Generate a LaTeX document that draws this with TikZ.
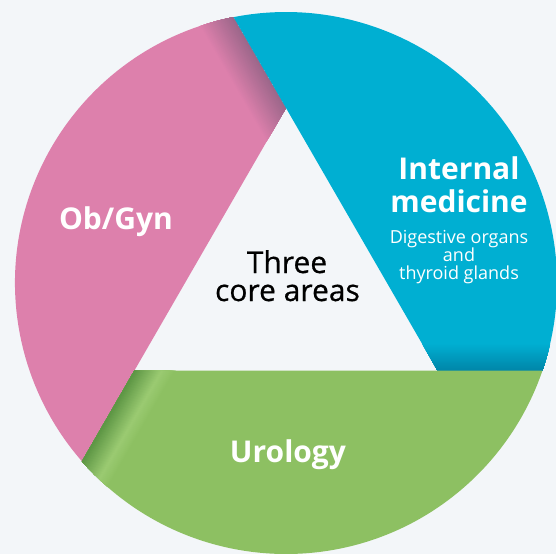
\documentclass[tikz,border=0pt]{standalone}
\usepackage{fontspec}
\setmainfont{Open Sans}
\newfontfamily\corefont[FakeBold=0.6]{Open Sans}
\definecolor{bgc}{HTML}{F3F6F9}
\definecolor{pinkc}{HTML}{DD80AC}
\definecolor{pinkd}{HTML}{9A6689}
\definecolor{bluec}{HTML}{00AFD2}
\definecolor{blued}{HTML}{0085A8}
\definecolor{greenc}{HTML}{8DC062}
\definecolor{greenl}{HTML}{9BCB72}
\definecolor{greend}{HTML}{5B9443}
\begin{document}
\begin{tikzpicture}[x=1pt,y=1pt,
  title/.style={text=white,font=\bfseries\fontsize{30}{32}\selectfont,anchor=base,inner sep=0},
  sub/.style={text=white,font=\fontsize{18}{20}\selectfont,anchor=base,inner sep=0},
  core/.style={text=black,font=\corefont\fontsize{30}{32}\selectfont,anchor=base,inner sep=0}]
\fill[bgc] (-286,-271) rectangle (270,283);
\useasboundingbox (-286,-271) rectangle (270,283);
\def\R{271}
\coordinate (A) at (90:175);
\coordinate (B) at (210:175);
\coordinate (BR) at (330:175);
\coordinate (P1) at (101.16:\R);
\coordinate (P2) at (-18.84:\R);
\coordinate (P3) at (221.16:\R);
% pink
\begin{scope}
\clip (P1) arc[start angle=101.16,end angle=221.16,radius=\R] -- (B) -- (A) -- cycle;
\fill[pinkc] (-300,-300) rectangle (300,300);
\begin{scope}[shift={(A)},rotate=120]
\foreach \i in {30,29,...,1}{
  \pgfmathsetmacro\p{100*(1-\i/30)}
  \fill[pinkd!\p!pinkc] (-50,0) rectangle (400,{34*\i/30});
}
\end{scope}
\end{scope}
% blue
\begin{scope}
\clip (P2) arc[start angle=-18.84,end angle=101.16,radius=\R] -- (A) -- (BR) -- cycle;
\fill[bluec] (-300,-300) rectangle (300,300);
\begin{scope}[shift={(BR)},rotate=0]
\foreach \i in {30,29,...,1}{
  \pgfmathsetmacro\p{100*(1-\i/30)}
  \fill[blued!\p!bluec] (-50,0) rectangle (400,{27*\i/30});
}
\end{scope}
\end{scope}
% green
\begin{scope}
\clip (P3) arc[start angle=221.16,end angle=341.16,radius=\R] -- (BR) -- (B) -- cycle;
\fill[greenc] (-300,-300) rectangle (300,300);
\begin{scope}[shift={(B)},rotate=240]
\foreach \i in {12,11,...,1}{
  \pgfmathsetmacro\p{100*(1-\i/12)}
  \fill[greenl!\p!greenc] (-50,0) rectangle (400,{24+12*\i/12});
}
\foreach \i in {30,29,...,1}{
  \pgfmathsetmacro\p{100*(1-\i/30)}
  \fill[greend!\p!greenl] (-50,0) rectangle (400,{24*\i/30});
}
\end{scope}
\end{scope}
\node[title] (obgyn) at (-170,54) {Ob/Gyn};
\node[title] (intl) at (173,103) {Internal};
\node[title] (med) at (173,71) {medicine};
\node[sub] (dig) at (173,40) {Digestive organs};
\node[sub] (nand) at (173,22) {and};
\node[sub] (thy) at (173,4) {thyroid glands};
\node[core] (three) at (1,10) {Three};
\node[core] (corea) at (1.5,-18) {core areas};
\node[title] (uro) at (2,-179) {Urology};
\end{tikzpicture}
\end{document}
